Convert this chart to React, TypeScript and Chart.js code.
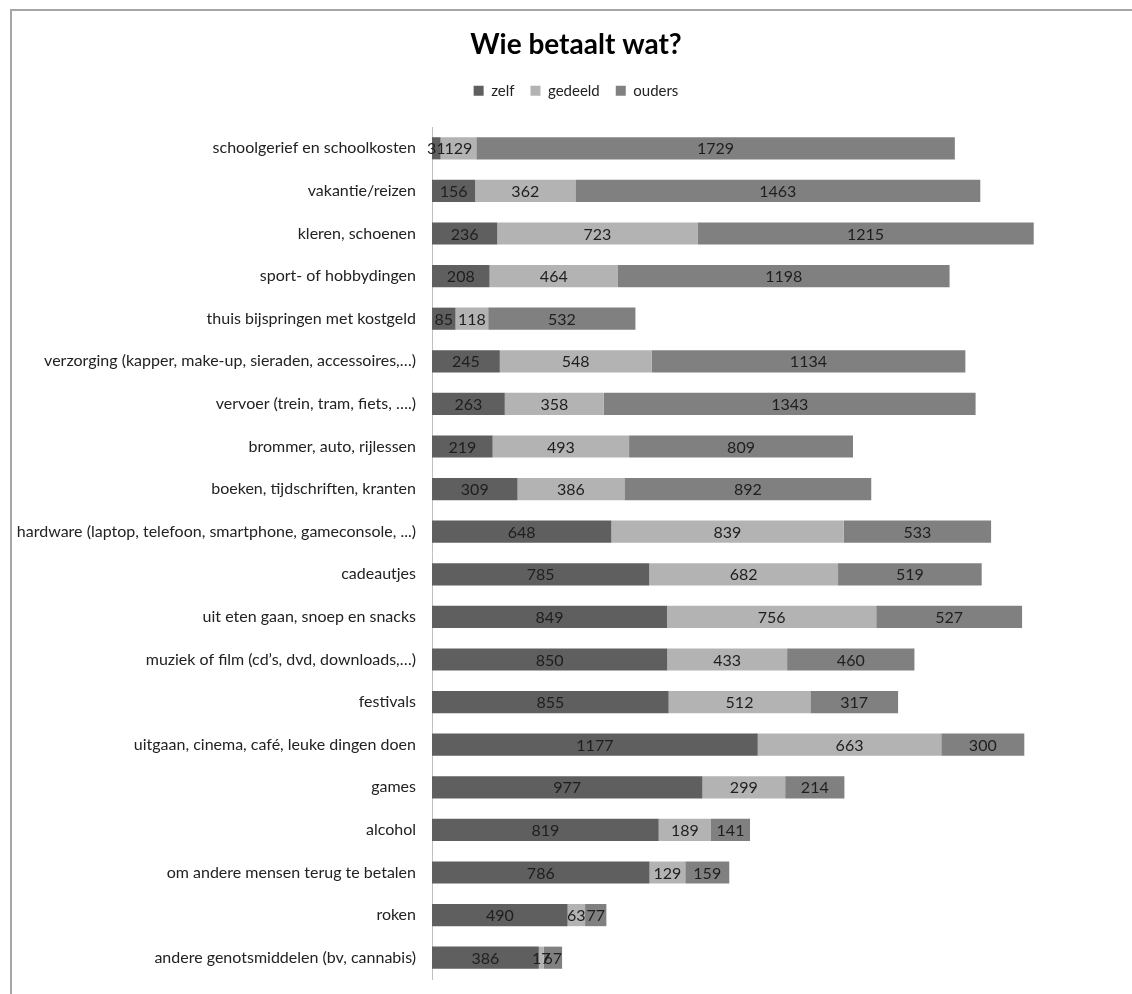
import React, { useEffect, useRef } from "react";
import { Chart, registerables } from "chart.js";

Chart.register(...registerables);

const categories: string[] = [
  "schoolgerief en schoolkosten",
  "vakantie/reizen",
  "kleren, schoenen",
  "sport- of hobbydingen",
  "thuis bijspringen met kostgeld",
  "verzorging (kapper, make-up, sieraden, accessoires,…)",
  "vervoer (trein, tram, fiets, ….)",
  "brommer, auto, rijlessen",
  "boeken, tijdschriften, kranten",
  "hardware (laptop, telefoon, smartphone, gameconsole, ...)",
  "cadeautjes",
  "uit eten gaan, snoep en snacks",
  "muziek of film (cd’s, dvd, downloads,…)",
  "festivals",
  "uitgaan, cinema, café, leuke dingen doen",
  "games",
  "alcohol",
  "om andere mensen terug te betalen",
  "roken",
  "andere genotsmiddelen (bv, cannabis)",
];

const zelf: number[] = [31, 156, 236, 208, 85, 245, 263, 219, 309, 648, 785, 849, 850, 855, 1177, 977, 819, 786, 490, 386];
const gedeeld: number[] = [129, 362, 723, 464, 118, 548, 358, 493, 386, 839, 682, 756, 433, 512, 663, 299, 189, 129, 63, 17];
const ouders: number[] = [1729, 1463, 1215, 1198, 532, 1134, 1343, 809, 892, 533, 519, 527, 460, 317, 300, 214, 141, 159, 77, 67];

const seriesNames: string[] = ["zelf", "gedeeld", "ouders"];
const seriesColors: string[] = ["#5f5f5f", "#b3b3b3", "#808080"];

const FONT = "Lato, 'Liberation Sans', sans-serif";

const valueLabels = {
  id: "valueLabels",
  afterDatasetsDraw(chart: any) {
    const ctx = chart.ctx;
    ctx.save();
    ctx.font = `16px ${FONT}`;
    ctx.fillStyle = "#1e1e1e";
    ctx.textAlign = "center";
    ctx.textBaseline = "middle";
    chart.data.datasets.forEach((ds: any, di: number) => {
      const meta = chart.getDatasetMeta(di);
      meta.data.forEach((el: any, i: number) => {
        const cx = (el.x + el.base) / 2;
        ctx.fillText(String(ds.data[i]), cx, el.y + 1);
      });
    });
    ctx.restore();
  },
};

export default function App() {
  const ref = useRef<HTMLCanvasElement | null>(null);

  useEffect(() => {
    if (!ref.current) return;
    const seriesData = [zelf, gedeeld, ouders];
    const chart = new Chart(ref.current, {
      type: "bar",
      data: {
        labels: categories,
        datasets: seriesNames.map((name, i) => ({
          label: name,
          data: seriesData[i],
          backgroundColor: seriesColors[i],
          borderWidth: 0,
          barPercentage: 0.52,
          categoryPercentage: 1,
        })),
      },
      options: {
        indexAxis: "y",
        responsive: false,
        animation: false,
        layout: { padding: { left: 0, right: 0, top: 0, bottom: 15 } },
        scales: {
          x: {
            stacked: true,
            min: 0,
            max: 2558,
            position: "top",
            display: true,
            grid: { display: false, drawTicks: true, tickLength: 18.8 },
            border: { display: false },
            ticks: { display: false },
          },
          y: {
            stacked: true,
            grid: { display: false, drawTicks: false },
            border: { display: true, color: "#bfbfbf", width: 1 },
            ticks: {
              padding: 16,
              color: "#222",
              font: { family: FONT, size: 16 },
            },
            afterFit: (scale: any) => {
              scale.width = 420;
              scale.paddingTop = 0;
              scale.paddingBottom = 0;
            },
          },
        },
        plugins: {
          title: {
            display: true,
            text: "Wie betaalt wat?",
            color: "#000",
            font: { family: FONT, size: 28, weight: "bold" },
            padding: { top: 17.2, bottom: 5.4 },
          },
          legend: {
            display: true,
            position: "top",
            labels: {
              boxWidth: 10,
              boxHeight: 10,
              padding: 16,
              color: "#222",
              font: { family: FONT, size: 15 },
            },
          },
          tooltip: { enabled: false },
        },
      },
      plugins: [valueLabels],
    });
    return () => chart.destroy();
  }, []);

  return (
    <div
      style={{
        position: "fixed",
        left: 0,
        top: 0,
        width: 1132,
        height: 994,
        overflow: "hidden",
        background: "#fff",
      }}
    >
      <div
        style={{
          position: "absolute",
          left: 10,
          top: 9,
          borderLeft: "2px solid #a6a6a6",
          borderTop: "2px solid #a6a6a6",
          width: 1140,
          height: 1000,
        }}
      >
        <canvas ref={ref} width={1128} height={983} style={{ display: "block" }} />
      </div>
    </div>
  );
}
